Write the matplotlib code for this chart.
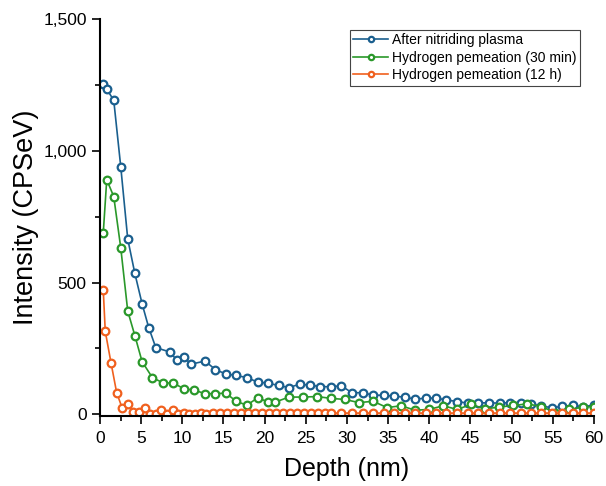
import matplotlib
matplotlib.use('Agg')
import matplotlib.pyplot as plt
from matplotlib.ticker import MultipleLocator, FuncFormatter

plt.rcParams['font.family'] = ['Liberation Sans', 'DejaVu Sans']

# After nitriding plasma
depth_nit = [0.40, 0.82, 1.67, 2.52, 3.37, 4.22, 5.11, 5.92, 6.78, 8.52, 9.33,
             10.18, 11.07, 12.77, 14.03, 15.29, 16.55, 17.85, 19.14, 20.40,
             21.69, 22.96, 24.25, 25.51, 26.76, 28.07, 29.32, 30.62, 31.91,
             33.18, 34.46, 35.73, 37.02, 38.28, 39.57, 40.84, 42.09, 43.39,
             44.68, 45.95, 47.24, 48.54, 49.79, 51.09, 52.31, 53.61, 54.87,
             56.17, 57.46, 58.72, 60.00]
int_nit = [1256, 1235, 1193, 941, 666, 537, 420, 329, 253, 236, 205,
           217, 190, 202, 169, 153, 147, 139, 122, 118,
           109, 101, 114, 110, 105, 104, 108, 81, 82,
           72, 72, 68, 65, 57, 61, 61, 54, 48,
           42, 43, 43, 42, 44, 43, 38, 32, 24,
           30, 33, 29, 34]

# Hydrogen pemeation (30 min)
depth_30 = [0.40, 0.82, 1.67, 2.52, 3.37, 4.26, 5.11, 6.36, 7.66, 8.91, 10.18,
            11.47, 12.77, 14.03, 15.29, 16.55, 17.85, 19.14, 20.40, 21.29,
            22.96, 24.65, 26.36, 28.07, 29.72, 31.47, 33.18, 34.88, 36.58,
            38.28, 39.99, 41.69, 43.39, 45.09, 46.79, 48.50, 50.21, 51.91,
            53.61, 55.32, 57.02, 58.72, 60.00]
int_30 = [690, 891, 827, 633, 392, 296, 200, 139, 119, 118, 97,
          91, 78, 78, 80, 49, 34, 62, 47, 46,
          65, 65, 67, 60, 56, 44, 49, 25, 32,
          15, 18, 32, 18, 37, 20, 27, 33, 39,
          29, 6, 18, 27, 29]

# Hydrogen pemeation (12 h)
depth_12 = [0.40, 0.64, 1.34, 2.03, 2.68, 3.37, 4.05, 4.74, 5.47, 6.12, 6.78,
            7.46, 8.15, 8.84, 9.49, 10.22, 10.86, 11.56, 12.25, 12.93,
            13.75, 14.60, 15.45, 16.30, 17.15, 18.00, 18.86, 19.71, 20.56,
            21.41, 22.26, 23.11, 23.97, 24.82, 25.67, 26.52, 27.37, 28.07,
            29.32, 30.62, 31.91, 33.18, 34.46, 35.73, 37.02, 38.28, 39.57,
            40.84, 42.09, 43.39, 44.68, 45.95, 47.24, 48.54, 49.79, 51.09,
            52.31, 53.61, 54.87, 56.17, 57.46, 58.72, 60.00]
int_12 = [470, 315, 195, 81, 25, 38, 9, 8, 25, 0, 1,
          15, 0, 16, 0, 6, 0, 0, 6, 0,
          4, 5, 4, 4, 5, 4, 4, 5, 4,
          4, 4, 5, 4, 4, 4, 5, 4, 4,
          4, 4, 4, 4, 4, 4, 4, 4, 4,
          4, 4, 4, 4, 4, 4, 4, 4, 4,
          4, 4, 4, 4, 4, 4, 4]

fig = plt.figure(figsize=(6.06, 4.86), dpi=100)
ax = fig.add_axes([0.165, 0.144, 0.815, 0.816])

style = dict(marker='o', markersize=5.5, markerfacecolor='white',
             markeredgewidth=1.6, linewidth=1.2)
ax.plot(depth_nit, int_nit, color='#1A5F8E', label='After nitriding plasma', **style)
ax.plot(depth_30, int_30, color='#2A982A', label='Hydrogen pemeation (30 min)', **style)
ax.plot(depth_12, int_12, color='#F0601E', label='Hydrogen pemeation (12 h)', **style)

ax.set_xlim(0, 60)
ax.set_ylim(-7, 1500)
ax.xaxis.set_major_locator(MultipleLocator(5))
ax.xaxis.set_minor_locator(MultipleLocator(2.5))
ax.yaxis.set_major_locator(MultipleLocator(500))
ax.yaxis.set_minor_locator(MultipleLocator(250))
ax.yaxis.set_major_formatter(FuncFormatter(lambda v, p: '{:,.0f}'.format(v)))

for side in ['top', 'right']:
    ax.spines[side].set_visible(False)
for side in ['left', 'bottom']:
    ax.spines[side].set_linewidth(1.5)
ax.tick_params(which='major', direction='out', length=6, width=1.2, labelsize=12.5)
ax.tick_params(axis='x', which='major', pad=5)
ax.tick_params(which='minor', direction='out', length=3.5, width=1.2)

ax.set_xlabel('Depth (nm)', fontsize=18, labelpad=8)
ax.set_ylabel('Intensity (CPSeV)', fontsize=19.5, labelpad=3)

leg = ax.legend(loc='upper right', bbox_to_anchor=(0.972, 0.974), fontsize=10,
                fancybox=False, framealpha=1, edgecolor='#444444',
                handlelength=2.5, handletextpad=0.3, borderpad=0.25,
                borderaxespad=0, labelspacing=0.25, markerscale=0.7)
leg.get_frame().set_linewidth(0.8)

plt.savefig('out.png', dpi=100)
